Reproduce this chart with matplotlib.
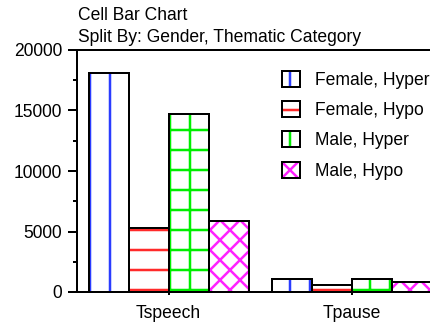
import matplotlib
matplotlib.use('Agg')
import matplotlib.pyplot as plt
import numpy as np
from matplotlib.ticker import MultipleLocator
from matplotlib.legend_handler import HandlerTuple

plt.rcParams['font.family'] = ['Liberation Sans', 'DejaVu Sans']
plt.rcParams['hatch.linewidth'] = 1.5

# data
categories = ['Tspeech', 'Tpause']
series = ['Female, Hyper', 'Female, Hypo', 'Male, Hyper', 'Male, Hypo']
female_hyper = [18100, 1100]
female_hypo = [5250, 580]
male_hyper = [14700, 1100]
male_hypo = [5850, 850]

values = [female_hyper, female_hypo, male_hyper, male_hypo]
colors = ['#2a3cff', '#ff2a2a', '#00ee00', '#ff22ff']
hatches = ['|', '-', '+', 'xx']

fs = 10.5
fig = plt.figure(figsize=(430 / 120, 336 / 120), dpi=120)
# axes run past the right edge of the figure, as in the original
ax = fig.add_axes([77 / 430, 44 / 336, 366.5 / 430, 242 / 336])

x = np.arange(len(categories))
w = 0.2186
handles = []
for i, (vals, c, h) in enumerate(zip(values, colors, hatches)):
    pos = x + (i - 1.5) * w
    hb = ax.bar(pos, vals, w, color='white', edgecolor=c, hatch=h, linewidth=0)
    ob = ax.bar(pos, vals, w, fill=False, edgecolor='black', linewidth=1.2)
    handles.append((hb, ob))

ax.set_xlim(-0.5, 1.5)
ax.set_ylim(0, 20000)
ax.set_xticks(x)
ax.set_xticklabels(categories, fontsize=fs)
ax.yaxis.set_major_locator(MultipleLocator(5000))
ax.yaxis.set_minor_locator(MultipleLocator(2500))
ax.tick_params(axis='y', which='major', length=5.4, width=1.2, pad=3.5, labelsize=fs)
ax.tick_params(axis='y', which='minor', length=2.5, width=1.2)
ax.tick_params(axis='x', length=2, width=1.2, pad=6)
for s in ax.spines.values():
    s.set_linewidth(1.2)

fig.text(78 / 430, 1 - 15 / 336, 'Cell Bar Chart', fontsize=fs, va='center')
fig.text(78 / 430, 1 - 38 / 336, 'Split By: Gender, Thematic Category', fontsize=fs, va='center')

ax.legend(handles, series, handler_map={tuple: HandlerTuple(ndivide=1, pad=0)},
          loc='upper left', bbox_to_anchor=(282 / 430, 1 - 71 / 336),
          bbox_transform=fig.transFigure, frameon=False, fontsize=fs,
          borderpad=0, borderaxespad=0, handlelength=1.03, handleheight=1.03,
          handletextpad=0.85, labelspacing=0.7)

fig.savefig('out.png', dpi=120)
